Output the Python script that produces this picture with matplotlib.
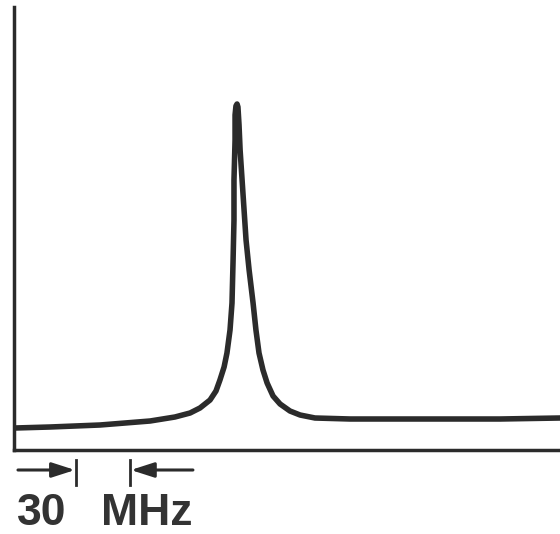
import matplotlib.pyplot as plt

# traced trace of the resonance, x in MHz from the left axis, y in arbitrary units
freq_mhz = [0.6, 20, 47.8, 75.6, 89.4, 97.8, 103.3, 108.9, 112.2, 114.4, 116.7,
            118.3, 120, 121.1, 121.7, 122.2, 122.2, 122.8, 122.8, 123.3, 123.9,
            124.4, 125, 125.6, 126.7, 127.8, 128.9, 130.6, 132.8, 134.4, 136.1,
            138.3, 140.6, 143.9, 147.8, 153.3, 158.9, 167.2, 186.7, 225.6, 270, 303.3]
signal = [22, 23, 25, 29, 33, 37, 42, 50, 59, 70, 83,
          97, 120, 147, 190, 230, 270, 310, 335, 344, 346,
          343, 325, 300, 270, 240, 210, 180, 147, 120, 97,
          80, 67, 54, 46, 39, 35, 32, 31, 31, 31, 32]

scale_start = 34.4   # MHz, left marker of the scale bar
scale_width = 30     # MHz
label_num = "30"
label_unit = "MHz"

ink = "#2b2b2b"

fig = plt.figure(figsize=(5.6, 5.34), dpi=100)
ax = fig.add_axes([0.025, 0.1573, 0.975, 0.8296])
ax.plot(freq_mhz, signal, color=ink, lw=4, solid_capstyle="round",
        solid_joinstyle="round")
ax.set_xlim(0, 303.3)
ax.set_ylim(0, 443)
ax.set_xticks([])
ax.set_yticks([])
for s in ["top", "right"]:
    ax.spines[s].set_visible(False)
for s in ["left", "bottom"]:
    ax.spines[s].set_color(ink)
    ax.spines[s].set_linewidth(2.5)

# scale bar: two arrows pointing at the markers
y_bar = -20
right = scale_start + scale_width
ax.plot([scale_start, scale_start], [-10, -35], color=ink, lw=2, clip_on=False)
ax.plot([right, right], [-10, -35], color=ink, lw=2, clip_on=False)
arrow = dict(arrowstyle="-|>,head_length=1.4,head_width=0.45", color=ink, lw=2.2,
             shrinkA=0, shrinkB=0)
ax.annotate("", xy=(scale_start - 0.5, y_bar), xytext=(2.2, y_bar),
            arrowprops=arrow, annotation_clip=False)
ax.annotate("", xy=(right + 0.5, y_bar), xytext=(99.4, y_bar),
            arrowprops=arrow, annotation_clip=False)

txt = dict(fontsize=32, fontweight="bold", color="#333333",
           family="Liberation Sans", va="baseline", ha="left", clip_on=False)
ax.text(1.5, -74.5, label_num, **txt)
ax.text(48.5, -74.5, label_unit, **txt)

fig.savefig("out.png", dpi=100)
